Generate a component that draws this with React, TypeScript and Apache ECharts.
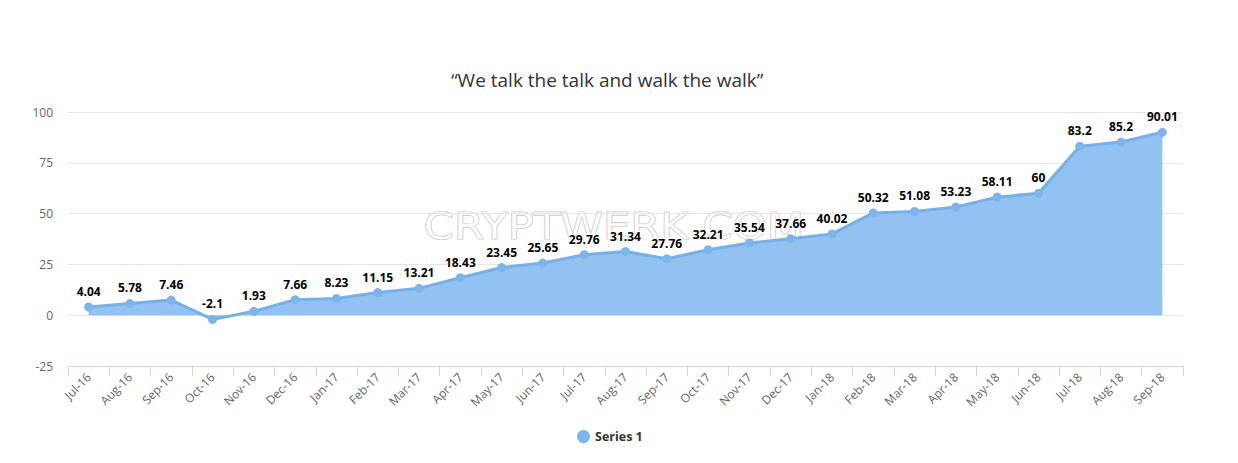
import React, { useEffect, useRef } from "react";
import * as echarts from "echarts";

const categories = [
  "Jul-16", "Aug-16", "Sep-16", "Oct-16", "Nov-16", "Dec-16",
  "Jan-17", "Feb-17", "Mar-17", "Apr-17", "May-17", "Jun-17",
  "Jul-17", "Aug-17", "Sep-17", "Oct-17", "Nov-17", "Dec-17",
  "Jan-18", "Feb-18", "Mar-18", "Apr-18", "May-18", "Jun-18",
  "Jul-18", "Aug-18", "Sep-18",
];

const series1 = [
  4.04, 5.78, 7.46, -2.1, 1.93, 7.66,
  8.23, 11.15, 13.21, 18.43, 23.45, 25.65,
  29.76, 31.34, 27.76, 32.21, 35.54, 37.66,
  40.02, 50.32, 51.08, 53.23, 58.11, 60,
  83.2, 85.2, 90.01,
];

const yMin = -25;
const yMax = 100;
const yInterval = 25;

const titleText = "\u201CWe talk the talk and walk the walk\u201D";
const seriesName = "Series 1";
const watermark = "CRYPTWERK.COM";

const FONT = "'Open Sans', 'DejaVu Sans', sans-serif";

export default function App() {
  const ref = useRef<HTMLDivElement>(null);

  useEffect(() => {
    if (!ref.current) return;
    const chart = echarts.init(ref.current, null, { renderer: "svg" });
    chart.setOption({
      animation: false,
      backgroundColor: "#ffffff",
      textStyle: { fontFamily: FONT },
      title: {
        text: titleText,
        left: 451,
        top: 70,
        padding: 0,
        textStyle: { fontFamily: FONT, fontSize: 19, fontWeight: "normal", color: "#333333" },
      },
      legend: {
        data: [seriesName],
        bottom: 15,
        left: 572,
        icon: "circle",
        itemWidth: 13,
        itemHeight: 13,
        itemGap: 6,
        textStyle: { fontFamily: FONT, fontSize: 12.5, fontWeight: "bold", color: "#333333" },
      },
      graphic: [
        {
          type: "text",
          left: 423,
          top: 207,
          z: 0,
          silent: true,
          scaleX: 1.17,
          style: {
            text: watermark,
            fontFamily: "'DejaVu Sans', sans-serif",
            fontSize: 37,
            fill: "rgba(255,255,255,0.75)",
            stroke: "#c9c9c9",
            lineWidth: 1.2,
          },
        },
      ],
      grid: { left: 68, right: 55, top: 112, bottom: 97, containLabel: false },
      xAxis: {
        type: "category",
        data: categories,
        boundaryGap: true,
        axisLine: { onZero: false, lineStyle: { color: "#ccd6eb", width: 1 } },
        axisTick: { show: true, length: 10, lineStyle: { color: "#ccd6eb" } },
        axisLabel: {
          rotate: 45,
          interval: 0,
          color: "#666666",
          fontSize: 12,
          fontFamily: FONT,
          margin: 9,
        },
        splitLine: { show: false },
      },
      yAxis: {
        type: "value",
        min: yMin,
        max: yMax,
        interval: yInterval,
        axisLine: { show: false },
        axisTick: { show: false },
        axisLabel: { color: "#666666", fontSize: 12, fontFamily: FONT, margin: 15 },
        splitLine: { lineStyle: { color: "#e6e6e6", width: 1 } },
      },
      series: [
        {
          name: seriesName,
          type: "line",
          data: series1,
          symbol: "circle",
          symbolSize: 9,
          z: 3,
          itemStyle: { color: "#7cb5ec" },
          lineStyle: { color: "#76b0e8", width: 3 },
          areaStyle: { color: "#91c2f1", opacity: 1, origin: 0 },
          label: {
            show: true,
            position: "top",
            distance: 5,
            fontFamily: FONT,
            fontSize: 12,
            fontWeight: "bold",
            color: "#000000",
            textBorderColor: "#ffffff",
            textBorderWidth: 2,
          },
        },
      ],
    });
    return () => chart.dispose();
  }, []);

  return (
    <div
      ref={ref}
      style={{ position: "fixed", left: 0, top: 0, width: 1238, height: 463 }}
    />
  );
}
